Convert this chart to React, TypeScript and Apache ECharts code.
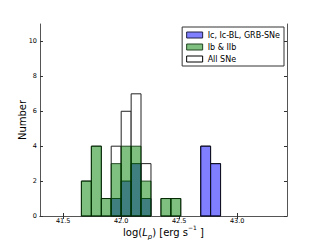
import React, { useEffect, useRef } from "react";
import * as echarts from "echarts";

const binEdges = [41.657, 41.743, 41.829, 41.914, 42.0, 42.086, 42.171, 42.257, 42.343, 42.429, 42.514, 42.6, 42.686, 42.771, 42.857, 42.943, 43.029, 43.114, 43.2, 43.286, 43.371];
const allCounts = [2, 4, 1, 4, 6, 7, 3, 0, 1, 1, 0, 0, 4, 3, 0, 0, 0, 0, 0, 0];
const icCounts = [0, 0, 0, 1, 2, 3, 1, 0, 0, 0, 0, 0, 4, 3, 0, 0, 0, 0, 0, 0];
const ibCounts = [2, 4, 1, 3, 4, 4, 2, 0, 1, 1, 0, 0, 0, 0, 0, 0, 0, 0, 0, 0];
const xTicks = [41.5, 42.0, 42.5, 43.0];
const yTicks = [0, 2, 4, 6, 8, 10];
const seriesNames = ["Ic, Ic-BL, GRB-SNe", "Ib & IIb", "All SNe"];

const FONT = "DejaVu Sans";

function binData(counts: number[]) {
  return counts.map((c, i) => [binEdges[i], binEdges[i + 1], c]);
}

function makeRender(fill: string, stroke: string) {
  return (params: any, api: any) => {
    const x0 = api.value(0);
    const x1 = api.value(1);
    const c = api.value(2);
    if (!c) return null;
    const p0 = api.coord([x0, c]);
    const p1 = api.coord([x1, 0]);
    return {
      type: "rect",
      shape: { x: p0[0], y: p0[1], width: p1[0] - p0[0], height: p1[1] - p0[1] },
      style: { fill, stroke, lineWidth: 1 },
    };
  };
}

export default function App() {
  const ref = useRef<HTMLDivElement>(null);
  useEffect(() => {
    if (!ref.current) return;
    const chart = echarts.init(ref.current, null, { renderer: "svg" });
    const axisLineStyle = { color: "#555", width: 1 };
    chart.setOption({
      animation: false,
      backgroundColor: "#fff",
      textStyle: { fontFamily: FONT },
      grid: { left: 40, right: 33, top: 24, bottom: 24, containLabel: false, outerBoundsMode: "none" },
      legend: {
        orient: "vertical",
        right: 36,
        top: 27,
        padding: [4, 4, 3, 4],
        borderColor: "#333",
        borderWidth: 1,
        itemWidth: 16,
        itemHeight: 6,
        itemGap: 4,
        textStyle: { fontSize: 8, fontFamily: FONT, color: "#000" },
        data: [
          { name: seriesNames[0], icon: "rect", itemStyle: { color: "rgba(0,0,255,0.5)", borderColor: "#224", borderWidth: 1 } },
          { name: seriesNames[1], icon: "rect", itemStyle: { color: "rgba(0,128,0,0.5)", borderColor: "#242", borderWidth: 1 } },
          { name: seriesNames[2], icon: "rect", itemStyle: { color: "#fff", borderColor: "#000", borderWidth: 1 } },
        ],
      },
      xAxis: [
        {
          type: "value",
          min: 41.3,
          max: 43.43,
          position: "bottom",
          name: "log({it|L}{sub|p}) [erg s{sup|−1} ]",
          nameLocation: "middle",
          nameGap: 8,
          nameMoveOverlap: false,
          nameTextStyle: {
            fontSize: 10,
            fontFamily: FONT,
            color: "#000",
            lineHeight: 14,
            verticalAlign: "top",
            rich: {
              it: { fontSize: 10, fontStyle: "italic", fontFamily: FONT, color: "#000" },
              sub: { fontSize: 7, fontStyle: "italic", fontFamily: FONT, verticalAlign: "bottom", lineHeight: 11, color: "#000" },
              sup: { fontSize: 6, fontFamily: FONT, verticalAlign: "top", lineHeight: 16, color: "#000" },
            },
          },
          axisLine: { show: true, lineStyle: axisLineStyle },
          axisTick: { show: true, inside: true, length: 3, customValues: xTicks, lineStyle: { color: "#333" } },
          axisLabel: { customValues: xTicks, fontSize: 6.5, margin: 1, color: "#000", formatter: (v: number) => v.toFixed(1) },
          splitLine: { show: false },
        },
        {
          type: "value",
          min: 41.3,
          max: 43.43,
          position: "top",
          axisLine: { show: true, lineStyle: axisLineStyle },
          axisTick: { show: true, inside: true, length: 3, customValues: xTicks, lineStyle: { color: "#333" } },
          axisLabel: { show: false },
          splitLine: { show: false },
        },
      ],
      yAxis: [
        {
          type: "value",
          min: 0,
          max: 11,
          position: "left",
          name: "Number",
          nameLocation: "middle",
          nameGap: 13,
          nameMoveOverlap: false,
          nameTextStyle: { fontSize: 10, fontFamily: FONT, color: "#000" },
          axisLine: { show: true, lineStyle: axisLineStyle },
          axisTick: { show: true, inside: true, length: 3, customValues: yTicks, lineStyle: { color: "#333" } },
          axisLabel: { customValues: yTicks, fontSize: 6.5, margin: 3, color: "#000" },
          splitLine: { show: false },
        },
        {
          type: "value",
          min: 0,
          max: 11,
          position: "right",
          axisLine: { show: true, lineStyle: axisLineStyle },
          axisTick: { show: true, inside: true, length: 3, customValues: yTicks, lineStyle: { color: "#333" } },
          axisLabel: { show: false },
          splitLine: { show: false },
        },
      ],
      series: [
        {
          name: seriesNames[2],
          type: "custom",
          renderItem: makeRender("#fff", "#222"),
          encode: { x: [0, 1], y: 2 },
          data: binData(allCounts),
          itemStyle: { color: "#fff" },
          z: 1,
        },
        {
          name: seriesNames[0],
          type: "custom",
          renderItem: makeRender("rgba(0,0,255,0.5)", "#112"),
          encode: { x: [0, 1], y: 2 },
          data: binData(icCounts),
          itemStyle: { color: "rgba(0,0,255,0.5)" },
          z: 2,
        },
        {
          name: seriesNames[1],
          type: "custom",
          renderItem: makeRender("rgba(0,128,0,0.5)", "rgba(0,40,0,0.8)"),
          encode: { x: [0, 1], y: 2 },
          data: binData(ibCounts),
          itemStyle: { color: "rgba(0,128,0,0.5)" },
          z: 3,
        },
      ],
    });
    return () => chart.dispose();
  }, []);
  return <div ref={ref} style={{ position: "fixed", left: 0, top: 0, width: 320, height: 240 }} />;
}
